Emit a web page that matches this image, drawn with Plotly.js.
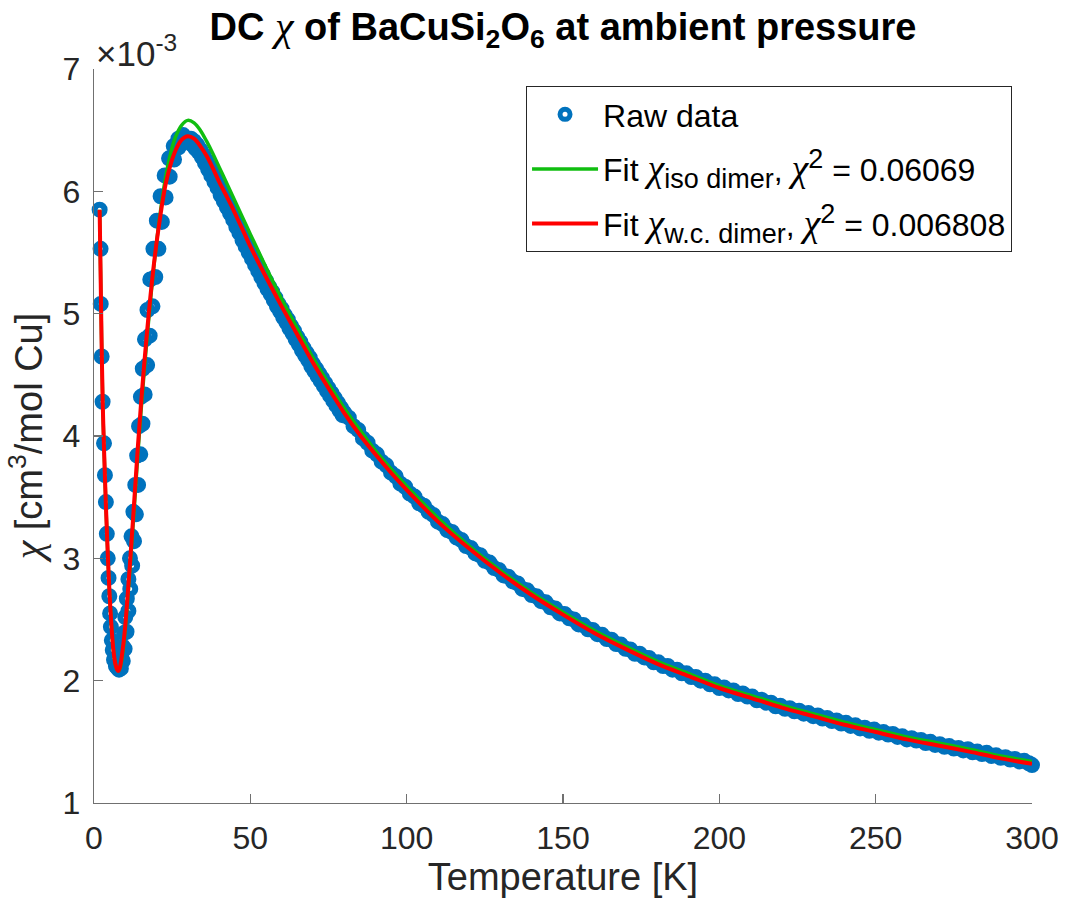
<!DOCTYPE html>
<html>
<head>
<meta charset="utf-8">
<script src="https://cdn.plot.ly/plotly-3.0.1.min.js"></script>
<style>html,body{margin:0;padding:0;background:#fff;}#chart{width:1065px;height:905px;}</style>
</head>
<body>
<div id="chart"></div>
<script>
// Values of chi are in units of 1e-3 cm^3/mol Cu (axis shows x10^-3)
const rawT_low = [1.8, 2.1, 2.15, 2.45, 2.75, 3.2, 3.5, 3.8, 4.1, 4.4, 4.65, 4.9, 5.15, 5.4, 5.7, 6.0, 6.4, 7.0, 7.7];
const rawChi_low = [5.85, 5.53, 5.08, 4.65, 4.28, 3.94, 3.68, 3.46, 3.20, 3.00, 2.84, 2.69, 2.55, 2.44, 2.33, 2.25, 2.17, 2.12, 2.10];

const rawT_riseA = [8.0, 8.4, 8.8, 9.2, 9.6, 10.0, 10.5, 11.0, 11.5, 12.0, 12.6, 13.2, 13.8, 14.4, 15.0, 15.6, 16.3, 17.1, 18.0, 19.0, 20.1, 21.3, 22.6, 24.0, 25.5, 27.0, 28.5];
const rawChi_riseA = [2.09, 2.13, 2.19, 2.28, 2.39, 2.52, 2.67, 2.83, 3.00, 3.18, 3.38, 3.60, 3.84, 4.08, 4.32, 4.55, 4.79, 5.03, 5.28, 5.53, 5.76, 5.96, 6.13, 6.27, 6.37, 6.43, 6.46];

const rawT_riseB = [8.6, 9.2, 9.8, 10.4, 11.0, 11.6, 12.2, 12.8, 13.4, 14.1, 14.8, 15.5, 16.2, 17.0, 17.8, 18.7, 19.6, 20.6, 21.7, 22.9, 24.2, 25.6, 27.1, 28.6, 30.0];
const rawChi_riseB = [2.10, 2.16, 2.26, 2.40, 2.57, 2.75, 2.94, 3.14, 3.36, 3.60, 3.85, 4.10, 4.34, 4.58, 4.82, 5.06, 5.30, 5.53, 5.75, 5.95, 6.12, 6.26, 6.36, 6.41, 6.43];

const rawT_fall1 = [31, 32, 33, 34, 35, 36, 37, 38, 39, 40, 41, 42, 43, 44, 45, 46, 47, 48, 49, 50, 51, 52, 53, 54, 55, 56, 57, 58, 59, 60, 61, 62, 63, 64, 65, 66, 67, 68, 69, 70, 71, 72, 73, 74, 75, 76, 77, 78, 79, 80];
const rawChi_fall1 = [6.43, 6.41, 6.38, 6.34, 6.30, 6.25, 6.20, 6.15, 6.10, 6.04, 5.99, 5.94, 5.89, 5.84, 5.78, 5.73, 5.67, 5.62, 5.57, 5.52, 5.47, 5.42, 5.37, 5.32, 5.27, 5.22, 5.18, 5.13, 5.08, 5.04, 4.99, 4.95, 4.90, 4.86, 4.81, 4.77, 4.72, 4.68, 4.64, 4.59, 4.55, 4.51, 4.47, 4.43, 4.39, 4.35, 4.31, 4.27, 4.23, 4.19];

const rawT_fall1b = [30.5, 31.5, 32.5, 33.5, 34.5, 35.5, 36.5, 37.5, 38.5, 39.5, 40.5, 41.5, 42.5, 43.5, 44.5, 45.5, 46.5, 47.5, 48.5, 49.5, 50.5, 51.5, 52.5, 53.5, 54.5, 55.5, 56.5, 57.5, 58.5, 59.5, 60.5, 61.5, 62.5, 63.5, 64.5, 65.5, 66.5, 67.5, 68.5, 69.5, 70.5, 71.5, 72.5, 73.5, 74.5, 75.5, 76.5, 77.5, 78.5, 79.5];
const rawChi_fall1b = [6.40, 6.38, 6.35, 6.32, 6.28, 6.23, 6.18, 6.13, 6.08, 6.03, 5.97, 5.92, 5.87, 5.82, 5.77, 5.71, 5.66, 5.60, 5.55, 5.50, 5.45, 5.40, 5.35, 5.30, 5.25, 5.20, 5.16, 5.11, 5.06, 5.02, 4.97, 4.93, 4.88, 4.84, 4.79, 4.75, 4.70, 4.66, 4.62, 4.57, 4.53, 4.49, 4.45, 4.41, 4.37, 4.33, 4.29, 4.25, 4.21, 4.17];

const rawT_fall2 = [83, 86, 89, 92, 95, 98, 101, 104, 107, 110, 113, 116, 119, 122, 125, 128, 131, 134, 137, 140, 143, 146, 149, 152, 155, 158, 161, 164, 167, 170, 173, 176, 179, 182, 185, 188, 191, 194, 197, 200, 203, 206, 209, 212, 215, 218, 221, 224, 227, 230, 233, 236, 239, 242, 245, 248, 251, 254, 257, 260, 263, 266, 269, 272, 275, 278, 281, 284, 287, 290, 293, 296, 299, 300];
const rawChi_fall2 = [4.08, 3.98, 3.88, 3.79, 3.70, 3.61, 3.53, 3.45, 3.38, 3.30, 3.23, 3.17, 3.10, 3.04, 2.98, 2.92, 2.86, 2.81, 2.75, 2.70, 2.65, 2.60, 2.55, 2.51, 2.46, 2.42, 2.38, 2.34, 2.30, 2.26, 2.22, 2.19, 2.15, 2.12, 2.09, 2.06, 2.03, 2.00, 1.97, 1.94, 1.92, 1.89, 1.87, 1.84, 1.82, 1.79, 1.77, 1.75, 1.73, 1.71, 1.69, 1.67, 1.65, 1.63, 1.61, 1.59, 1.575, 1.56, 1.54, 1.52, 1.51, 1.49, 1.475, 1.46, 1.445, 1.43, 1.415, 1.40, 1.385, 1.37, 1.355, 1.34, 1.325, 1.31];

const rawT_fall3 = [81.5, 84.5, 87.5, 90.5, 93.5, 96.5, 99.5, 102.5, 105.5, 108.5, 111.5, 114.5, 117.5, 120.5, 123.5, 126.5, 129.5, 132.5, 135.5, 138.5, 141.5, 144.5, 147.5, 150.5, 153.5, 156.5, 159.5, 162.5, 165.5, 168.5, 171.5, 174.5, 177.5, 180.5, 183.5, 186.5, 189.5, 192.5, 195.5, 198.5, 201.5, 204.5, 207.5, 210.5, 213.5, 216.5, 219.5, 222.5, 225.5, 228.5, 231.5, 234.5, 237.5, 240.5, 243.5, 246.5, 249.5, 252.5, 255.5, 258.5, 261.5, 264.5, 267.5, 270.5, 273.5, 276.5, 279.5, 282.5, 285.5, 288.5, 291.5, 294.5, 297.5];
const rawChi_fall3 = [4.15, 4.05, 3.945, 3.85, 3.76, 3.67, 3.585, 3.505, 3.43, 3.355, 3.28, 3.215, 3.15, 3.085, 3.025, 2.965, 2.905, 2.85, 2.795, 2.74, 2.69, 2.64, 2.59, 2.545, 2.50, 2.455, 2.415, 2.375, 2.335, 2.295, 2.255, 2.22, 2.185, 2.15, 2.12, 2.09, 2.06, 2.03, 2.00, 1.97, 1.945, 1.92, 1.895, 1.87, 1.845, 1.82, 1.795, 1.775, 1.755, 1.735, 1.715, 1.695, 1.675, 1.655, 1.635, 1.615, 1.60, 1.58, 1.565, 1.545, 1.53, 1.515, 1.50, 1.48, 1.465, 1.45, 1.44, 1.42, 1.41, 1.39, 1.375, 1.36, 1.345];

const fitT = [1.8, 2.1, 2.4, 2.8, 3.2, 3.8, 4.4, 5.0, 5.6, 6.2, 6.8, 7.4, 7.8, 8.3, 9.0, 10, 11, 12, 13, 14, 15, 16, 17, 18, 19, 20, 21, 22, 23, 24.5, 26, 28, 30, 32, 34, 36, 38, 40, 42, 44, 46, 48, 50, 55, 60, 65, 70, 75, 80, 85, 90, 95, 100, 110, 120, 130, 140, 150, 160, 170, 180, 190, 200, 210, 220, 230, 240, 250, 260, 270, 280, 290, 300];
const fitIso = [5.85, 5.35, 4.82, 4.26, 3.90, 3.44, 3.04, 2.70, 2.44, 2.25, 2.14, 2.09, 2.08, 2.10, 2.19, 2.42, 2.74, 3.09, 3.46, 3.84, 4.19, 4.51, 4.81, 5.09, 5.35, 5.58, 5.79, 5.97, 6.13, 6.31, 6.44, 6.54, 6.58, 6.56, 6.50, 6.41, 6.31, 6.20, 6.09, 5.98, 5.87, 5.76, 5.65, 5.38, 5.12, 4.88, 4.64, 4.43, 4.23, 4.05, 3.88, 3.73, 3.59, 3.33, 3.10, 2.90, 2.72, 2.56, 2.41, 2.28, 2.16, 2.06, 1.96, 1.88, 1.80, 1.73, 1.66, 1.60, 1.54, 1.49, 1.44, 1.385, 1.34];
const fitWC = [5.85, 5.35, 4.82, 4.26, 3.90, 3.44, 3.04, 2.70, 2.44, 2.25, 2.14, 2.09, 2.08, 2.11, 2.22, 2.45, 2.78, 3.14, 3.52, 3.90, 4.25, 4.57, 4.86, 5.13, 5.37, 5.58, 5.76, 5.93, 6.07, 6.22, 6.33, 6.42, 6.45, 6.43, 6.37, 6.29, 6.19, 6.08, 5.98, 5.88, 5.77, 5.66, 5.55, 5.30, 5.06, 4.83, 4.60, 4.39, 4.19, 4.01, 3.85, 3.70, 3.56, 3.30, 3.08, 2.88, 2.70, 2.54, 2.39, 2.26, 2.14, 2.04, 1.94, 1.86, 1.78, 1.71, 1.64, 1.58, 1.52, 1.47, 1.42, 1.365, 1.32];

const xTicks = [0, 50, 100, 150, 200, 250, 300];
const yTicks = [1, 2, 3, 4, 5, 6, 7];

const SANS = "'Liberation Sans', Arial, Helvetica, sans-serif";
const CHI = (sz) => "<span style=\"font-family:'Liberation Serif';font-size:" + sz + "px\"><i>χ</i></span>";
const SUB = (t) => "<sub><span style=\"font-size:27px\">" + t + "</span></sub>";
const SUP = (t) => "<sup><span style=\"font-size:27px\">" + t + "</span></sup>";
const legendNames = [
  'Raw data',
  'Fit ' + CHI(38) + SUB('iso dimer') + ', ' + CHI(38) + SUP('2') + ' = 0.06069',
  'Fit ' + CHI(38) + SUB('w.c. dimer') + ', ' + CHI(38) + SUP('2') + ' = 0.006808'
];
const AX = '#262626';
const LINE = '#707070';

const rawT = rawT_low.concat(rawT_riseA, rawT_riseB, rawT_fall1, rawT_fall1b, rawT_fall2, rawT_fall3);
const rawChi = rawChi_low.concat(rawChi_riseA, rawChi_riseB, rawChi_fall1, rawChi_fall1b, rawChi_fall2, rawChi_fall3);

const traces = [
  {
    x: rawT, y: rawChi, type: 'scatter', mode: 'markers', name: legendNames[0],
    legendgroup: 'a', cliponaxis: false,
    marker: {symbol: 'circle-open', size: 10, color: '#0072BD', line: {width: 6, color: '#0072BD'}}
  },
  {
    x: fitT, y: fitIso, type: 'scatter', mode: 'lines', name: legendNames[1],
    legendgroup: 'b',
    line: {color: '#10BE10', width: 3.5, shape: 'spline', smoothing: 0.8}
  },
  {
    x: fitT, y: fitWC, type: 'scatter', mode: 'lines', name: legendNames[2],
    legendgroup: 'c',
    line: {color: '#FF0000', width: 4, shape: 'spline', smoothing: 0.8}
  }
];

const layout = {
  width: 1065, height: 905,
  margin: {l: 94, r: 33, t: 69, b: 102, pad: 0},
  paper_bgcolor: '#ffffff', plot_bgcolor: '#ffffff',
  font: {family: SANS, color: AX, size: 30},
  showlegend: true,
  title: {
    text: "<b>DC <span style=\"font-family:'Liberation Serif';font-weight:normal;font-size:42px\"><i>χ</i></span> of BaCuSi<sub>2</sub>O<sub>6</sub> at ambient pressure</b>",
    font: {family: SANS, size: 38, color: '#000000'},
    xref: 'paper', x: 0.5, xanchor: 'center',
    yref: 'container', y: 0.97, yanchor: 'middle'
  },
  xaxis: {
    range: [0, 300], tickmode: 'array', tickvals: xTicks, ticktext: xTicks.map(String),
    ticks: 'inside', ticklen: 9, tickwidth: 1.2, tickcolor: LINE,
    showline: true, linecolor: LINE, linewidth: 1.2, mirror: false,
    showgrid: false, zeroline: false,
    tickfont: {family: SANS, size: 32, color: AX},
    ticklabelstandoff: 6,
    title: {text: 'Temperature [K]', font: {family: SANS, size: 38, color: AX}, standoff: 6}
  },
  yaxis: {
    range: [1, 7], tickmode: 'array', tickvals: yTicks, ticktext: yTicks.map(String),
    ticks: 'inside', ticklen: 9, tickwidth: 1.2, tickcolor: LINE,
    showline: true, linecolor: LINE, linewidth: 1.2, mirror: false,
    showgrid: false, zeroline: false,
    tickfont: {family: SANS, size: 32, color: AX},
    ticklabelstandoff: 6,
    title: {text: CHI(42) + ' [cm<sup>3</sup>/mol Cu]', font: {family: SANS, size: 38, color: AX}, standoff: 8}
  },
  legend: {
    x: 0.4606, y: 0.9768, xanchor: 'left', yanchor: 'top',
    xref: 'paper', yref: 'paper',
    bgcolor: '#ffffff', bordercolor: AX, borderwidth: 1,
    font: {family: SANS, size: 32, color: '#000000'},
    itemwidth: 66,
    traceorder: 'grouped', tracegroupgap: 10
  },
  annotations: [
    {
      xref: 'paper', yref: 'paper', x: 0, y: 1, xanchor: 'left', yanchor: 'bottom',
      xshift: 0, yshift: -6, showarrow: false,
      text: '×10<sup>-3</sup>', font: {family: SANS, size: 35, color: AX}
    }
  ]
};

Plotly.newPlot('chart', traces, layout, {displayModeBar: false, staticPlot: true});
</script>
</body>
</html>
